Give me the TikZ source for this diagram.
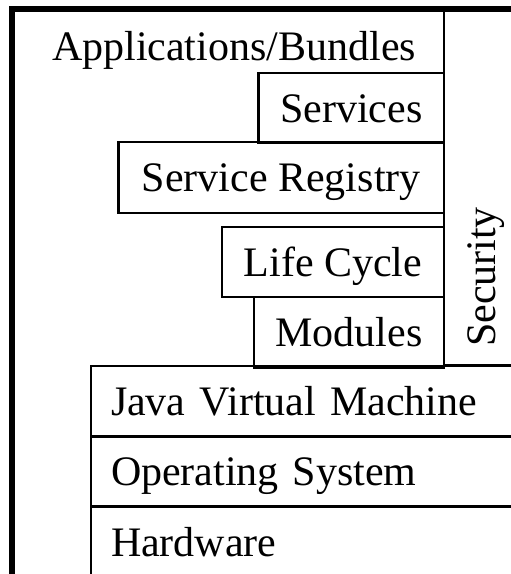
\documentclass[tikz,border=0pt]{standalone}
\usepackage{fontspec}
\setmainfont{Liberation Serif}
\begin{document}
\begin{tikzpicture}[x=1pt,y=-1pt,
  label font/.style={font=\fontsize{42}{48}\selectfont, text height=28pt, text depth=0pt},
  layer/.style={draw, line width=2.2pt, inner sep=0pt, outer sep=0pt, label font},
  platform/.style={layer, text width=414pt, align=left, inner xsep=20pt, minimum height=70.5pt},
  frameline/.style={line width=6pt}]
\clip (0,0) rectangle (511,574);

% outer frame (open to the right and below)
\draw[frameline] (12,600) -- (12,8.5) -- (560,8.5);

% security column on the right
\node[layer, minimum width=76pt, minimum height=356pt] (security) at (482,187) {};
\node[label font, rotate=90, inner sep=0pt] (securitytext) at (481,277) {Security};

% framework layers
\node[label font, anchor=base, inner sep=0pt] (apps) at (234,60) {Applications/Bundles};
\node[layer, minimum width=185.5pt, minimum height=70pt] (services) at (351.25,108) {Services};
\node[layer, minimum width=325.5pt, minimum height=71pt] (registry) at (281.25,177.5) {Service Registry};
\node[layer, minimum width=222pt, minimum height=70pt] (lifecycle) at (333,262) {Life Cycle};
\node[layer, minimum width=190pt, minimum height=70.5pt] (modules) at (349,332.25) {Modules};

% platform layers
\node[platform, anchor=north west] (jvm) at (91,366) {Java Virtual Machine};
\node[platform, anchor=north west] (os) at (91,436) {Operating System};
\node[platform, anchor=north west] (hw) at (91,507) {Hardware};
\end{tikzpicture}
\end{document}
